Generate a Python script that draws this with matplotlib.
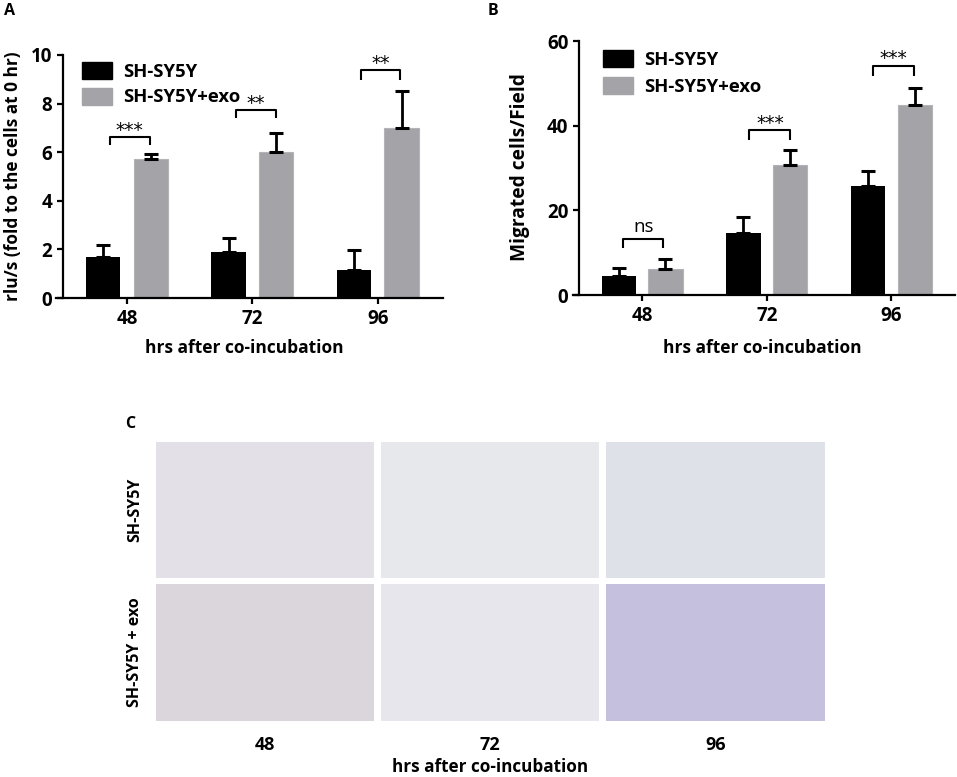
import matplotlib
matplotlib.use("Agg")
import matplotlib.pyplot as plt
from matplotlib.patches import Patch
import numpy as np

# ---------------- data ----------------
hours = ["48", "72", "96"]
series_names = ["SH-SY5Y", "SH-SY5Y+exo"]

# Panel A: rlu/s (fold to the cells at 0 hr)
a_ctrl = [1.69, 1.90, 1.15]
a_ctrl_err = [0.49, 0.55, 0.82]
a_exo = [5.72, 6.02, 7.00]
a_exo_err = [0.21, 0.78, 1.50]
a_sig = ["***", "**", "**"]
a_sig_top = [6.63, 7.74, 9.38]
a_sig_tip = [6.30, 7.40, 8.97]

# Panel B: migrated cells / field
b_ctrl = [4.4, 14.7, 25.8]
b_ctrl_err = [1.9, 3.8, 3.6]
b_exo = [6.1, 30.8, 44.8]
b_exo_err = [2.5, 3.5, 4.2]
b_sig = ["ns", "***", "***"]
b_sig_top = [13.3, 39.0, 54.2]
b_sig_tip = [11.0, 36.6, 51.8]

# Panel C: micrograph grid labels
c_rows = ["SH-SY5Y", "SH-SY5Y + exo"]
c_cols = ["48", "72", "96"]

# ---------------- style ----------------
W, H = 957, 777
FONT = "Open Sans"
plt.rcParams["font.family"] = [FONT, "DejaVu Sans"]
BLACK = "#000000"
GRAY = "#a3a3a8"

fig = plt.figure(figsize=(W / 100, H / 100), dpi=100)


def px_axes(l, t, r, b):
    return fig.add_axes([l / W, 1 - b / H, (r - l) / W, (b - t) / H])


def ftext(x, y, s, **kw):
    fig.text(x / W, 1 - y / H, s, **kw)


def bar_panel(ax, ctrl, ctrl_err, exo, exo_err, sig, sig_top, sig_tip,
              xlim, ylim, yticks, off, lx, rx, spine_left, sig_offset):
    x = np.arange(len(hours))
    w = 0.275
    ax.bar(x - off, ctrl, w, color=BLACK, zorder=2)
    ax.bar(x + off, exo, w, color=GRAY, edgecolor="#b4b4b8", linewidth=0.8, zorder=2)
    z = np.zeros(len(x))
    ax.errorbar(x - off, ctrl, yerr=[z, ctrl_err], fmt="none", ecolor=BLACK,
                elinewidth=2.0, capsize=5.3, capthick=2.2, zorder=3)
    ax.errorbar(x + off, exo, yerr=[z, exo_err], fmt="none", ecolor=BLACK,
                elinewidth=2.0, capsize=5.3, capthick=2.2, zorder=3)
    for i in range(len(x)):
        x0, x1 = x[i] + lx[i], x[i] + rx[i]
        ax.plot([x0, x0, x1, x1], [sig_tip[i], sig_top[i], sig_top[i], sig_tip[i]],
                color=BLACK, lw=1.5, solid_capstyle="butt", zorder=4, clip_on=False)
        ax.annotate(sig[i], xy=((x0 + x1) / 2, sig_top[i]), xytext=(0, sig_offset[i]),
                    textcoords="offset points", ha="center", va="bottom",
                    fontsize=13.5, family="DejaVu Sans" if sig[i] != "ns" else FONT,
                    annotation_clip=False)
    ax.set_xlim(*xlim)
    ax.set_ylim(*ylim)
    ax.set_xticks(x)
    ax.set_xticklabels(hours)
    ax.set_yticks(yticks)
    for s in ["top", "right"]:
        ax.spines[s].set_visible(False)
    for s in ["left", "bottom"]:
        ax.spines[s].set_linewidth(1.6)
    ax.spines["bottom"].set_bounds(spine_left, xlim[1])
    ax.tick_params(axis="both", width=1.6, length=4.5, labelsize=13.5, pad=3.2)
    for lab in ax.get_xticklabels() + ax.get_yticklabels():
        lab.set_fontweight("bold")
    ax.set_facecolor("none")


# ---------------- Panel A ----------------
axA = px_axes(63, 55, 443, 298)
bar_panel(axA, a_ctrl, a_ctrl_err, a_exo, a_exo_err, a_sig, a_sig_top, a_sig_tip,
          (-0.51, 2.52), (0, 10), [0, 2, 4, 6, 8, 10], 0.19,
          [-0.135, -0.13, -0.135], [0.18, 0.19, 0.175], -0.565, [-2, -2, -2])

# ---------------- Panel B ----------------
axB = px_axes(579, 41, 955, 295)
bar_panel(axB, b_ctrl, b_ctrl_err, b_exo, b_exo_err, b_sig, b_sig_top, b_sig_tip,
          (-0.506, 2.51), (0, 60), [0, 20, 40, 60], 0.187,
          [-0.15, -0.14, -0.145], [0.17, 0.19, 0.18], -0.555, [2, -2, -2])

handles = [Patch(facecolor=BLACK, edgecolor=BLACK), Patch(facecolor=GRAY, edgecolor=GRAY)]
for ax, (lx, ty, sp) in [(axA, (82, 62, 0.36)), (axB, (603, 50, 0.45))]:
    ax.legend(handles, series_names, loc="upper left",
              bbox_to_anchor=(lx / W, 1 - ty / H), bbox_transform=fig.transFigure,
              frameon=False, borderpad=0, borderaxespad=0, handlelength=1.62,
              handleheight=1.05, handletextpad=0.62, labelspacing=sp,
              prop={"family": FONT, "weight": "bold", "size": 13.3})

# axis labels A, B
ftext(13, 176, "rlu/s (fold to the cells at 0 hr)", rotation=90, ha="center",
      va="center", fontsize=12.4, fontweight="bold")
ftext(244, 348, "hrs after co-incubation", ha="center", va="center",
      fontsize=12.5, fontweight="bold")
ftext(520, 167, "Migrated cells/Field", rotation=90, ha="center", va="center",
      fontsize=13.8, fontweight="bold")
ftext(762, 348, "hrs after co-incubation", ha="center", va="center",
      fontsize=12.5, fontweight="bold")

# panel letters
ftext(10, 11, "A", ha="center", va="center", fontsize=11.5, fontweight="bold")
ftext(493, 11, "B", ha="center", va="center", fontsize=11.5, fontweight="bold")
ftext(130, 424, "C", ha="center", va="center", fontsize=11.5, fontweight="bold")

# ---------------- Panel C (micrograph placeholders) ----------------
col_x = [(156, 374), (381, 599), (606, 825)]
row_y = [(442, 578), (584, 721)]
tile_colors = [["#e3e1e7", "#e6e8ec", "#dfe1e8"],
               ["#dad6dc", "#e6e6ec", "#c4c0de"]]
for r, (t, b) in enumerate(row_y):
    for c, (l, rr) in enumerate(col_x):
        tax = px_axes(l, t, rr, b)
        tax.set_facecolor(tile_colors[r][c])
        tax.set_xticks([])
        tax.set_yticks([])
        for s in tax.spines.values():
            s.set_visible(False)
    ftext(135, (t + b) / 2, c_rows[r], rotation=90, ha="center", va="center",
          fontsize=11.5, fontweight="bold")
for c, (l, rr) in enumerate(col_x):
    ftext((l + rr) / 2, 745, c_cols[c], ha="center", va="center",
          fontsize=13, fontweight="bold")
ftext(490, 767, "hrs after co-incubation", ha="center", va="center",
      fontsize=12.3, fontweight="bold")

fig.savefig("out.png", dpi=100)
